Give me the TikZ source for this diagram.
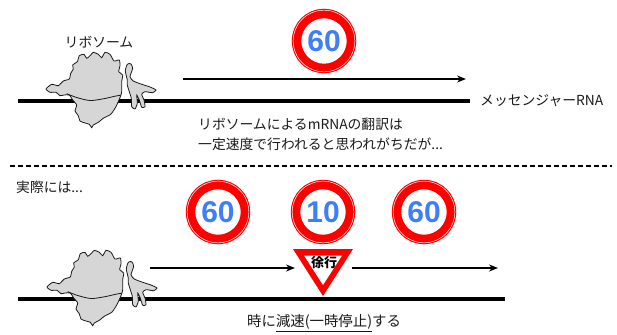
\documentclass[tikz,border=0pt]{standalone}
\usepackage{fontspec}
\setmainfont{Noto Sans CJK JP}
\newfontfamily\signfont{Liberation Sans}
\usetikzlibrary{arrows.meta}
\definecolor{signred}{HTML}{FF0000}
\definecolor{signblue}{HTML}{3F7EF5}
\definecolor{ribogray}{HTML}{D6D6D6}
\definecolor{inkgray}{HTML}{1A1A1A}

\tikzset{
  ribosome/.pic={
    % small and large subunits as one irregular outline
    \filldraw[fill=ribogray, draw=inkgray, line width=0.8pt]
      plot[smooth cycle, tension=0.35] coordinates {
        (46,89) (51.7,84.3) (58.3,85.7) (63.3,81) (69.3,79) (70.7,73.3)
        (73.3,69) (72.7,65) (77.3,61.7) (79.3,55.7) (84,54.3) (86.7,58.3)
        (90.7,55) (93.3,52.3) (98.3,54.3) (101.7,57.7) (105,52.3) (110,54.3)
        (114,61) (119.3,60) (120,65.7) (118.7,71.7) (122.7,75) (121.7,81.7)
        (121.7,91.7) (120.7,95.7) (118.3,101.7) (115,108.3) (110.7,114.3)
        (103.3,118.3) (98.3,122.3) (93.3,125) (91.7,127.7) (89.3,124.3)
        (85,123) (80,121) (78.3,115.7) (75,111) (76.7,105) (72.7,100)
        (69.3,95) (64,95) (60,95.7) (56,92.3) (50,92.3)};
    % seam between the subunits
    \draw[inkgray, line width=0.8pt]
      plot[smooth, tension=0.5] coordinates {
        (66.7,93.7) (76.7,97.5) (90,100.5) (103.3,98.8) (115,96.2) (120.7,95.2)};
    % tRNA-like appendage on the right
    \filldraw[fill=ribogray, draw=inkgray, line width=0.8pt]
      plot[smooth cycle, tension=0.35] coordinates {
        (127.3,80) (125.3,71) (127.3,64.3) (130.7,63.7) (132.7,68.3)
        (130,76.7) (133.3,81) (141.7,84.3) (150,87) (156,90) (152.7,92.7)
        (145,91.7) (141.7,94.3) (144,100) (145,106.7) (141.7,107.3)
        (139.3,100) (136.7,95) (137.3,103.3) (135,109) (131.7,106.7)
        (131.3,98.3) (129.3,91.7) (127.3,85)};
  }
}

\begin{document}
\begin{tikzpicture}[x=1pt, y=-1pt,
  txt/.style={font=\fontsize{13.8}{16}\selectfont, inner sep=0pt, text=inkgray},
  speed/.style={circle, draw=signred, line width=9.5pt, fill=white,
    minimum size=55pt, inner sep=0pt, text=signblue,
    font=\signfont\bfseries\fontsize{30}{30}\selectfont},
  rim/.style={draw=white, line width=0.5pt},
  mrna/.style={line width=4pt, draw=black},
  move/.style={line width=1.5pt, draw=black, -{Stealth[length=9pt, width=7pt]}},
  divider/.style={line width=1.4pt, draw=black, dash pattern=on 5pt off 3pt},
  yieldtext/.style={font=\bfseries\fontsize{13}{14}\selectfont, inner sep=0pt, text=black}
]
\useasboundingbox (0,0) rectangle (617,334);

% ---------- constant speed ----------
\coordinate (m1a) at (18,101);
\coordinate (m1b) at (470,101);
\draw[mrna] (m1a) -- (m1b);
\pic at (0,0) {ribosome};
\node[txt] (ribo1) at (99,42) {リボソーム};
\node[txt, anchor=west] (mrnalabel) at (480,101) {メッセンジャーRNA};

\coordinate (a1s) at (183,79);
\coordinate (a1e) at (466,79);
\draw[move] (a1s) -- (a1e);

\node[speed] (lim1) at (324,41) {60};
\draw[rim] (lim1.center) circle (30.8);

\node[txt, anchor=west] (note1) at (198,124) {リボソームによるmRNAの翻訳は};
\node[txt, anchor=west] (note2) at (198,144) {一定速度で行われると思われがちだが...};

% ---------- divider ----------
\coordinate (d1) at (10,166);
\coordinate (d2) at (612,166);
\draw[divider] (d1) -- (d2);
\node[txt, anchor=west] (actual) at (16,187) {実際には...};

% ---------- variable speed ----------
\coordinate (m2a) at (18,299);
\coordinate (m2b) at (505,299);
\draw[mrna] (m2a) -- (m2b);
\pic at (1,198) {ribosome};

\node[speed] (lim2) at (218,212) {60};
\node[speed] (lim3) at (323,212) {10};
\node[speed] (lim4) at (424,212) {60};
\draw[rim] (lim2.center) circle (30.8);
\draw[rim] (lim3.center) circle (30.8);
\draw[rim] (lim4.center) circle (30.8);

% yield sign
\fill[signred] (293,249) -- (353,249) -- (323,296) -- cycle;
\fill[white] (304,255.5) -- (342,255.5) -- (323,285) -- cycle;
\node[yieldtext] (slow) at (324,263) {徐行};

\coordinate (a2s) at (150,268);
\coordinate (a2e) at (295,268);
\coordinate (a3s) at (352,268);
\coordinate (a3e) at (498,268);
\draw[move] (a2s) -- (a2e);
\draw[move] (a3s) -- (a3e);

\node[txt, anchor=west, font=\fontsize{14.4}{16}\selectfont] (note3) at (247,323) {時に\underline{減速(一時停止)}する};
\end{tikzpicture}
\end{document}
